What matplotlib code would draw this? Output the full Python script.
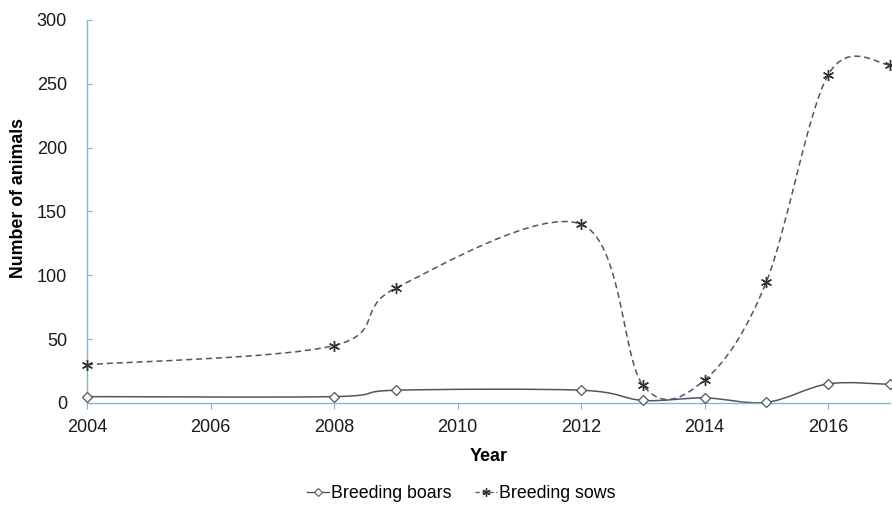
import numpy as np
import matplotlib
matplotlib.use("Agg")
import matplotlib.pyplot as plt
from matplotlib.path import Path
from matplotlib.patches import PathPatch
from matplotlib.lines import Line2D

plt.rcParams['font.family'] = ['Liberation Sans', 'DejaVu Sans']

years = [2004, 2008, 2009, 2012, 2013, 2014, 2015, 2016, 2017]
boars = [5, 5, 10, 10, 2, 4, 0.5, 15, 14.6]
sows = [30, 45, 90, 140, 14, 18, 95, 257, 265]
x_ticks = [2004, 2006, 2008, 2010, 2012, 2014, 2016]
y_ticks = [0, 50, 100, 150, 200, 250, 300]

LINE = '#4a5868'
SPINE = '#8db6cb'


def smooth_path(x, y):
    pts = np.column_stack([x, y]).astype(float)
    n = len(pts)
    verts = [pts[0]]
    codes = [Path.MOVETO]
    for i in range(n - 1):
        p0 = pts[i - 1] if i > 0 else pts[i]
        p1 = pts[i]
        p2 = pts[i + 1]
        p3 = pts[i + 2] if i + 2 < n else pts[i + 1]
        c1 = p1 + (p2 - p0) / 6.0
        c2 = p2 - (p3 - p1) / 6.0
        verts += [c1, c2, p2]
        codes += [Path.CURVE4] * 3
    return Path(verts, codes)


fig = plt.figure(figsize=(8.92, 5.08), dpi=100)
ax = fig.add_axes([0.0975, 0.2067, 0.9002, 0.754])

ax.add_patch(PathPatch(smooth_path(years, boars), fill=False, edgecolor=LINE, lw=1.1))
ax.add_patch(PathPatch(smooth_path(years, sows), fill=False, edgecolor=LINE, lw=1.1,
                       linestyle=(0, (4, 2.5))))
ax.plot(years, boars, linestyle='none', marker='D', ms=5, mfc='white', mec='#555555', mew=0.9,
        clip_on=False, zorder=3)
ax.plot(years, sows, linestyle='none', marker=(6, 2, 0), ms=8, mec='#333333', mew=1.0,
        clip_on=False, zorder=3)

ax.set_xlim(2004, 2017)
ax.set_ylim(0, 300)
ax.set_xticks(x_ticks)
ax.set_yticks(y_ticks)
ax.tick_params(axis='x', direction='out', length=4.5, color=SPINE, labelsize=13,
               labelcolor='#1a1a1a', pad=7.0)
ax.tick_params(axis='y', direction='in', length=3.5, color=SPINE, labelsize=13,
               labelcolor='#1a1a1a', pad=14.4)
for s in ['top', 'right']:
    ax.spines[s].set_visible(False)
for s in ['left', 'bottom']:
    ax.spines[s].set_color(SPINE)
    ax.spines[s].set_linewidth(1.0)

ax.set_xlabel('Year', fontsize=13, fontweight='bold')
ax.xaxis.set_label_coords(0.5, -0.1165)
ax.set_ylabel('Number of animals', fontsize=12.8, fontweight='bold')
ax.yaxis.set_label_coords(-0.0753, 0.534)

handles = [
    Line2D([0], [0], color=LINE, lw=1.0, marker='D', ms=4, mfc='white', mec='#555555', mew=0.8),
    Line2D([0], [0], color=LINE, lw=1.0, linestyle=(0, (3, 2)), marker=(6, 2, 0), ms=6, mec='#333333'),
]
fig.legend(handles, ['Breeding boars', 'Breeding sows'], loc='center', bbox_to_anchor=(0.517, 0.029),
           ncol=2, frameon=False, fontsize=12.8, handlelength=1.25, handletextpad=0.1,
           columnspacing=1.3, borderpad=0.0)

fig.savefig('out.png', dpi=100)
